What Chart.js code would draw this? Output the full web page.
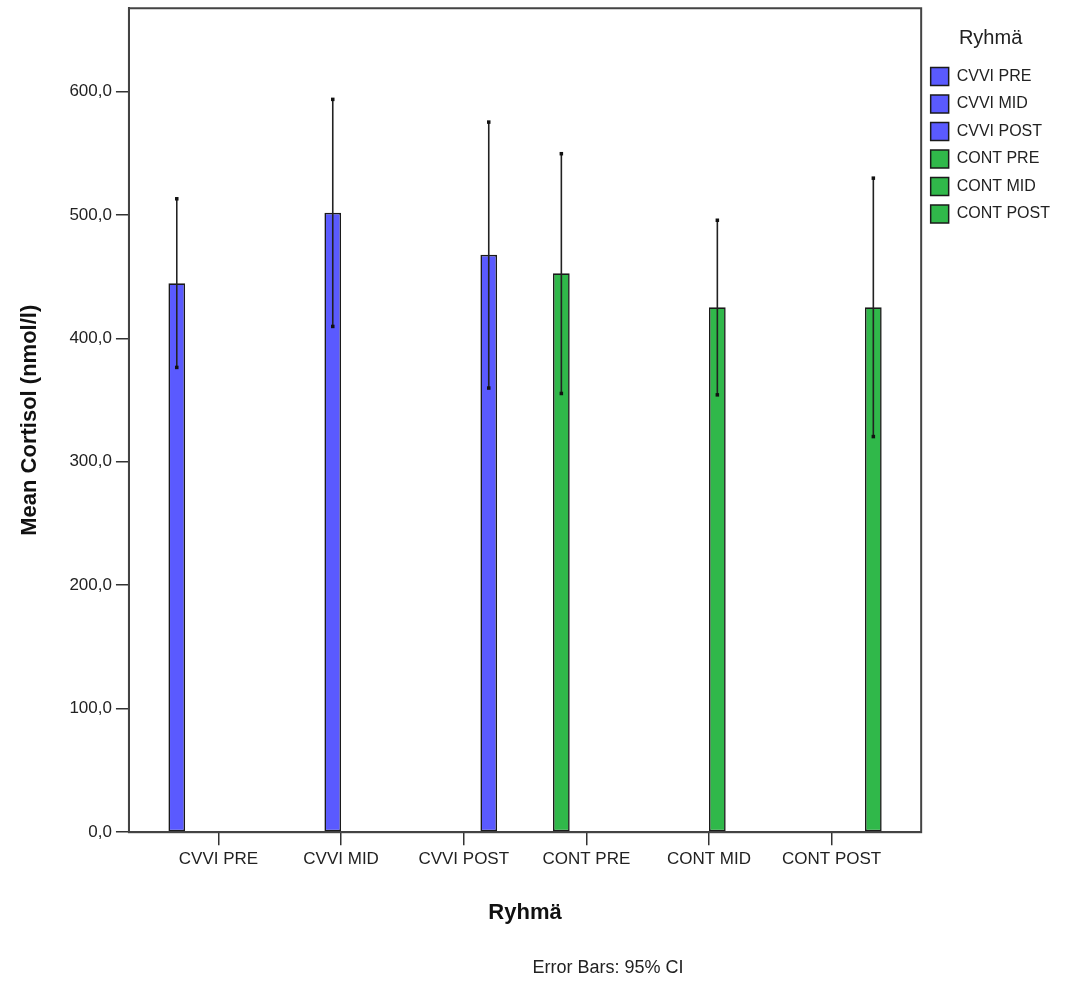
<!DOCTYPE html>
<html>
<head>
<meta charset="utf-8">
<script src="https://cdn.jsdelivr.net/npm/chart.js@4.4.0/dist/chart.umd.min.js"></script>
<style>
  html, body { margin: 0; padding: 0; background: #fff; }
</style>
</head>
<body>
<canvas id="chart" width="1075" height="981"></canvas>
<script>
// values
var categories = ['CVVI PRE', 'CVVI MID', 'CVVI POST', 'CONT PRE', 'CONT MID', 'CONT POST'];
var meanCortisol = [444.5, 501.6, 467.6, 452.6, 425.1, 425.1];
var ciLower = [376.4, 409.6, 359.7, 355.3, 354.2, 320.4];
var ciUpper = [513.0, 593.5, 575.1, 549.5, 495.6, 529.7];
// order of the cluster slots inside each category (SPSS puts them like this)
var clusterOrder = [0, 3, 1, 4, 2, 5];
var yTicks = [0, 100, 200, 300, 400, 500, 600];

var BLUE = '#5a5aff';
var GREEN = '#30b84a';
var EDGE = '#1a1a1a';

function colorOf(i) {
  return categories[i].indexOf('CVVI') === 0 ? BLUE : GREEN;
}

Chart.defaults.font.family = '"Liberation Sans", Arial, sans-serif';
Chart.defaults.color = '#222';

var datasets = clusterOrder.map(function (i) {
  return {
    label: categories[i],
    catIndex: i,
    data: [{ x: i, y: meanCortisol[i] }],
    backgroundColor: colorOf(i),
    borderColor: EDGE,
    borderWidth: 1.6,
    borderSkipped: false
  };
});

var frame = {
  id: 'frame',
  afterDatasetsDraw: function (chart) {
    var a = chart.chartArea, ctx = chart.ctx;
    ctx.save();
    ctx.strokeStyle = '#444';
    ctx.lineWidth = 2;
    ctx.strokeRect(a.left, a.top, a.right - a.left, a.bottom - a.top);
    ctx.restore();
  }
};

var errorBars = {
  id: 'errorBars',
  afterDatasetsDraw: function (chart) {
    var ctx = chart.ctx, y = chart.scales.y;
    ctx.save();
    ctx.strokeStyle = '#222';
    ctx.fillStyle = '#111';
    ctx.lineWidth = 1.6;
    chart.data.datasets.forEach(function (ds, d) {
      var bar = chart.getDatasetMeta(d).data[0];
      var i = ds.catIndex;
      var top = y.getPixelForValue(ciUpper[i]);
      var bot = y.getPixelForValue(ciLower[i]);
      ctx.beginPath();
      ctx.moveTo(bar.x, top);
      ctx.lineTo(bar.x, bot);
      ctx.stroke();
      ctx.fillRect(bar.x - 1.75, top - 1.75, 3.5, 3.5);
      ctx.fillRect(bar.x - 1.75, bot - 1.75, 3.5, 3.5);
    });
    ctx.restore();
  }
};

var footnote = {
  id: 'footnote',
  afterDraw: function (chart) {
    var a = chart.chartArea, ctx = chart.ctx;
    ctx.save();
    ctx.font = '18px "Liberation Sans", Arial, sans-serif';
    ctx.fillStyle = '#222';
    ctx.textAlign = 'center';
    ctx.textBaseline = 'middle';
    ctx.fillText('Error Bars: 95% CI', (a.left + a.right) / 2 + 83, chart.height - 13);
    ctx.restore();
  }
};

new Chart(document.getElementById('chart'), {
  type: 'bar',
  data: { datasets: datasets },
  plugins: [frame, errorBars, footnote],
  options: {
    responsive: false,
    animation: false,
    categoryPercentage: 0.816,
    barPercentage: 1,
    layout: { padding: { left: 13, top: 2, right: 15, bottom: 55 } },
    plugins: {
      tooltip: { enabled: false },
      legend: {
        position: 'right',
        align: 'start',
        title: {
          display: true,
          text: 'Ryhmä',
          color: '#222',
          font: { size: 20 },
          padding: { top: 26, bottom: 6 }
        },
        labels: {
          boxWidth: 18,
          boxHeight: 18,
          padding: 9.5,
          color: '#111',
          font: { size: 16 },
          generateLabels: function () {
            return categories.map(function (c, i) {
              return {
                text: c,
                fillStyle: colorOf(i),
                strokeStyle: EDGE,
                lineWidth: 1.5,
                hidden: false,
                datasetIndex: clusterOrder.indexOf(i)
              };
            });
          }
        }
      }
    },
    scales: {
      x: {
        type: 'linear',
        offset: false,
        min: -0.73,
        max: 5.73,
        afterBuildTicks: function (scale) {
          scale.ticks = categories.map(function (c, i) { return { value: i }; });
        },
        ticks: {
          autoSkip: false,
          maxRotation: 0,
          padding: 4,
          color: '#222',
          font: { size: 17 },
          callback: function (v) { return categories[v]; }
        },
        grid: { offset: false, drawOnChartArea: false, tickLength: 13, color: '#333', lineWidth: 1.5 },
        border: { display: true, color: '#444', width: 2 },
        title: {
          display: true,
          text: 'Ryhmä',
          color: '#111',
          font: { size: 22, weight: 'bold' },
          padding: { top: 26, bottom: 0 }
        }
      },
      y: {
        min: 0,
        max: 667.3,
        afterBuildTicks: function (scale) {
          scale.ticks = yTicks.map(function (v) { return { value: v }; });
        },
        ticks: {
          padding: 4,
          color: '#222',
          font: { size: 17, lineHeight: 0.5 },
          callback: function (v) { return v.toFixed(1).replace('.', ','); }
        },
        grid: { drawOnChartArea: false, tickLength: 13, color: '#333', lineWidth: 1.5 },
        border: { display: true, color: '#444', width: 2 },
        title: {
          display: true,
          text: 'Mean Cortisol (nmol/l)',
          color: '#111',
          font: { size: 22, weight: 'bold' },
          padding: { top: 4, bottom: 22 }
        }
      }
    }
  }
});
</script>
</body>
</html>
